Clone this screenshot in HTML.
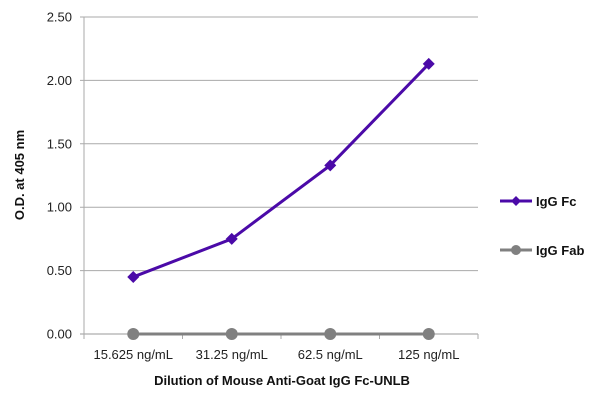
<!DOCTYPE html>
<html><head><meta charset="utf-8"><style>
body{margin:0;background:#fff;width:600px;height:405px;overflow:hidden;font-family:"Liberation Sans",sans-serif}
</style></head><body>
<svg width="600" height="405">
<g id="grid"></g>
<g id="yt" font-size="13" fill="#222" text-anchor="end"></g>
<g id="xt" font-size="13" fill="#222" text-anchor="middle"></g>
<g id="series"></g>
<text transform="translate(24,175) rotate(-90)" text-anchor="middle" font-size="13" font-weight="bold" fill="#111">O.D. at 405 nm</text>
<text x="282" y="385" text-anchor="middle" font-size="13" font-weight="bold" fill="#111">Dilution of Mouse Anti-Goat IgG Fc-UNLB</text>
<g>
<line x1="500" y1="201" x2="532" y2="201" stroke="#4b0aa8" stroke-width="3"/>
<path d="M516 196 L521 201 L516 206 L511 201Z" fill="#4b0aa8"/>
<text x="536" y="206" font-size="13" font-weight="bold" fill="#111">IgG Fc</text></g>
<g>
<line x1="500" y1="250" x2="532" y2="250" stroke="#808080" stroke-width="3"/>
<circle cx="516" cy="250" r="5" fill="#808080"/>
<text x="536" y="255" font-size="13" font-weight="bold" fill="#111">IgG Fab</text></g>
</svg>
<script>
const categories=["15.625 ng/mL","31.25 ng/mL","62.5 ng/mL","125 ng/mL"];
const iggFc=[0.45,0.75,1.33,2.13];
const iggFab=[0,0,0,0];
const yTicks=[0,0.5,1,1.5,2,2.5];
const X0=84,X1=478,Y0=334,Y1=17,YMAX=2.5;
const bw=(X1-X0)/categories.length;
const xs=i=>X0+bw*(i+0.5), ys=v=>Y0-(v/YMAX)*(Y0-Y1);
const NS="http://www.w3.org/2000/svg";
function mk(p,t,a){const e=document.createElementNS(NS,t);for(const k in a)e.setAttribute(k,a[k]);p.appendChild(e);return e;}
const grid=document.getElementById('grid'),yt=document.getElementById('yt'),xt=document.getElementById('xt'),sr=document.getElementById('series');
yTicks.forEach(v=>{const y=ys(v);
 const l=mk(grid,'line',{x1:X0-4,x2:X1,y1:y,y2:y,stroke:v===0?'#999':'#aaa','stroke-width':1});
 
 
 const t=mk(yt,'text',{x:X0-12,y:y+4.5});t.textContent=v.toFixed(2);
 
 });
mk(grid,'line',{x1:X0,x2:X0,y1:Y1,y2:Y0+5,stroke:'#aaa'});
categories.forEach((c,i)=>{const bx=X0+bw*(i+1);
 mk(grid,'line',{x1:bx,x2:bx,y1:Y0,y2:Y0+5,stroke:'#aaa'});
 const t=mk(xt,'text',{x:xs(i),y:359});t.textContent=c;
 
 });
function series(vals,col,shape,name){
 const p=mk(sr,'polyline',{points:vals.map((v,i)=>xs(i)+','+ys(v)).join(' '),fill:'none',stroke:col,'stroke-width':3});
 
 
 vals.forEach((v,i)=>{const x=xs(i),y=ys(v);let m;
  if(shape==='d')m=mk(sr,'path',{d:`M${x} ${y-6}L${x+6} ${y}L${x} ${y+6}L${x-6} ${y}Z`,fill:col});
  else m=mk(sr,'circle',{cx:x,cy:y,r:6,fill:col});
  
  });
}
series(iggFab,'#808080','c','igg-fab');
series(iggFc,'#4b0aa8','d','igg-fc');
</script>
</body></html>
